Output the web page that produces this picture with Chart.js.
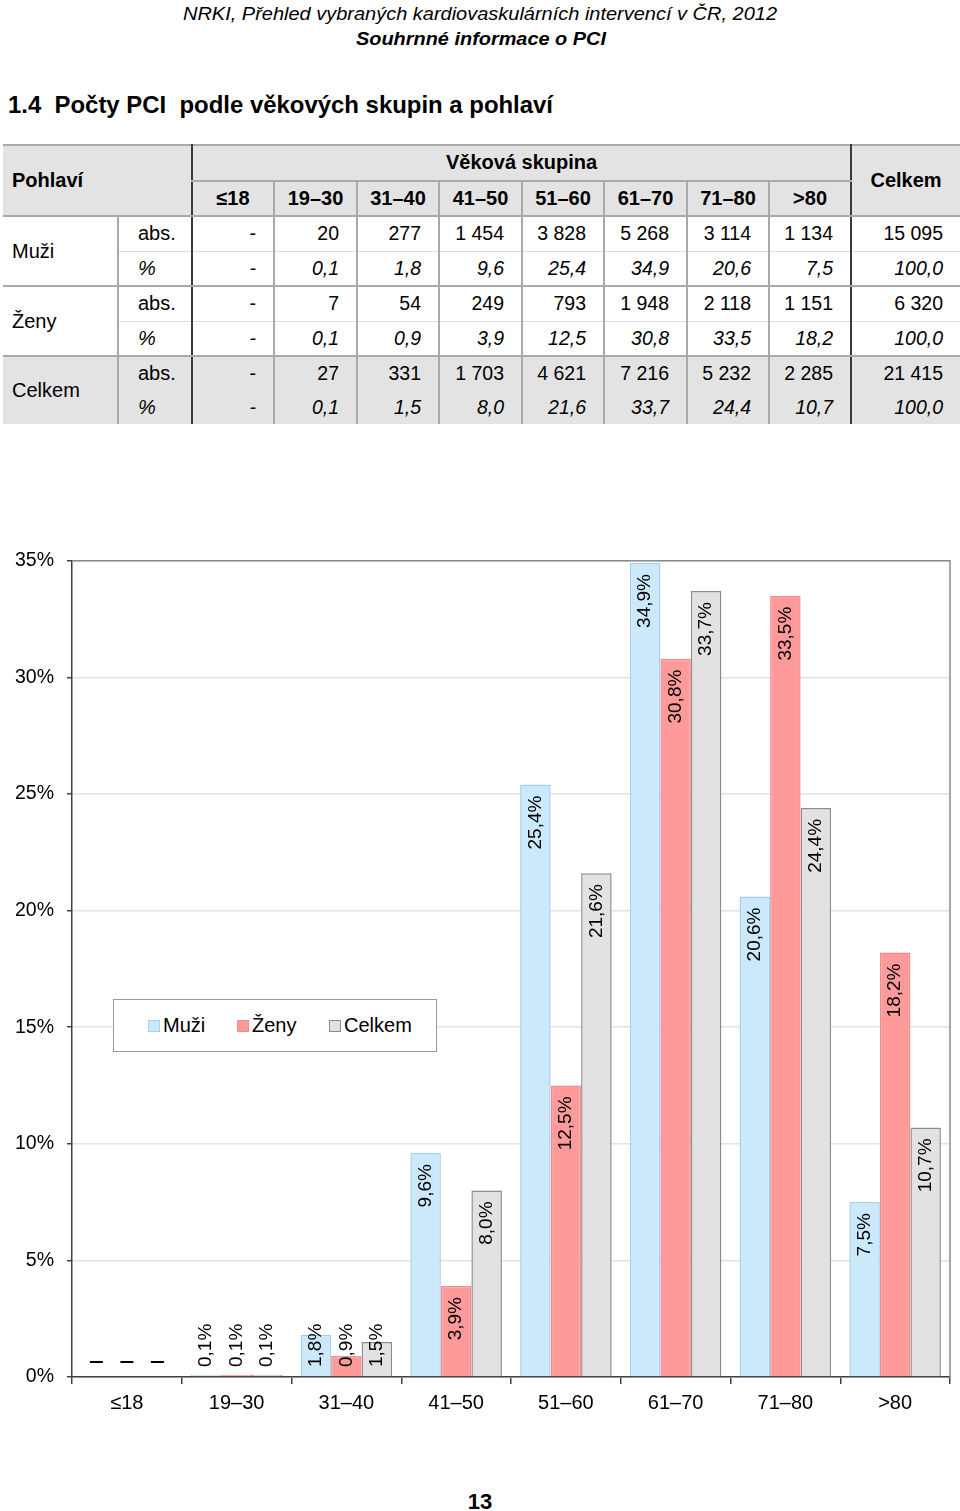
<!DOCTYPE html>
<html lang="cs"><head><meta charset="utf-8">
<script src="https://cdn.jsdelivr.net/npm/chart.js@4.4.0/dist/chart.umd.min.js"></script>
<style>
html,body{margin:0;padding:0}
body{width:960px;height:1511px;position:relative;background:#fff;font-family:"Liberation Sans",Arial,sans-serif;color:#000;overflow:hidden}
.fit{position:absolute;white-space:nowrap;font-family:"Liberation Sans Narrow","Arial Narrow","Liberation Sans",sans-serif;transform-origin:0 0}
#h1{top:4px;font-size:19px;line-height:19px;font-style:italic}
#h2{top:29px;font-size:19px;line-height:19px;font-style:italic;font-weight:bold}
#h3{top:93px;font-size:24px;line-height:24px;font-weight:bold}
#tbl{position:absolute;left:3px;top:144px;border-collapse:collapse;table-layout:fixed;width:957px;font-size:20px}
#tbl td{height:33.5px;padding:0;border:0;white-space:nowrap}
#tbl .hd{background:#e3e3e3;font-weight:bold}
#tbl .tot td{background:#e3e3e3}
#tbl .num{text-align:right;padding-right:17px;font-size:19.5px}
#tbl .it{font-style:italic}
#tbl .ctr{text-align:center}
#chartWrap{position:absolute;left:0;top:536px;width:960px;height:894px}
#legend{position:absolute;left:113px;top:999px;width:322px;height:51px;border:1px solid #9a9a9a;background:#fff;font-size:20px}
#legend .it{position:absolute;top:0;height:51px;line-height:51px;white-space:nowrap}
#legend .sw{position:absolute;width:10px;height:10px;top:20px;border:1px solid}
#pg{position:absolute;left:0;width:960px;text-align:center;top:1491px;font-size:22px;line-height:22px;font-weight:bold}
</style></head>
<body>
<div id="h1" class="fit">NRKI, Přehled vybraných kardiovaskulárních intervencí v ČR, 2012</div>
<div id="h2" class="fit">Souhrnné informace o PCI</div>
<div id="h3" class="fit">1.4&nbsp; Počty PCI &nbsp;podle věkových skupin a pohlaví</div>
<table id="tbl"></table>
<div id="chartWrap"><canvas id="c" width="960" height="894"></canvas></div>
<div id="legend"></div>
<div id="pg">13</div>
<script>
// ---- data ----
const categories = ['≤18', '19–30', '31–40', '41–50', '51–60', '61–70', '71–80', '>80'];
const seriesNames = ['Muži', 'Ženy', 'Celkem'];
const muziPct   = [null, 0.1, 1.8, 9.6, 25.4, 34.9, 20.6, 7.5];
const zenyPct   = [null, 0.1, 0.9, 3.9, 12.5, 30.8, 33.5, 18.2];
const celkemPct = [null, 0.1, 1.5, 8.0, 21.6, 33.7, 24.4, 10.7];
const muziAbs   = [null, 20, 277, 1454, 3828, 5268, 3114, 1134];
const zenyAbs   = [null, 7, 54, 249, 793, 1948, 2118, 1151];
const celkemAbs = [null, 27, 331, 1703, 4621, 7216, 5232, 2285];
const totalsAbs = [15095, 6320, 21415];
const yTickValues = [0, 5, 10, 15, 20, 25, 30, 35];

// ---- styles ----
const fills   = ['#cce8fb', '#ff9a9a', '#e2e2e2'];
const borders = ['#a6cfee', '#ef8c8c', '#8c8c8c'];

// ---- header fitting ----
function fitText(id, left, right){
  const el = document.getElementById(id);
  el.style.left = left + 'px';
  const w = el.getBoundingClientRect().width;
  el.style.transform = 'scaleX(' + ((right - left) / w) + ')';
}
fitText('h1', 183, 777);
fitText('h2', 356, 606);
fitText('h3', 8, 553);

// ---- table ----
const fmtAbs = v => v == null ? '-' : String(v).replace(/\B(?=(\d{3})+(?!\d))/g, ' ');
const fmtPct = v => v == null ? '-' : v.toFixed(1).replace('.', ',');
(function buildTable(){
  const G = '2px solid #a9a9a9', D = '2px solid #3a3a3a', L = '1px solid #dcdcdc';
  const colW = [115, 74, 82, 83, 82, 83, 82, 83, 82, 82, 109];
  let h = '<colgroup>' + colW.map(w => '<col style="width:' + w + 'px">').join('') + '</colgroup>';
  h += '<tr class="hd" style="border-top:' + G + '">' +
       '<td colspan="2" rowspan="2" style="padding-left:9px;border-bottom:' + G + '">Pohlaví</td>' +
       '<td colspan="8" class="ctr" style="border-left:' + D + ';border-right:' + D + ';border-bottom:' + G + '">Věková skupina</td>' +
       '<td rowspan="2" class="ctr" style="border-left:' + D + ';border-bottom:' + G + '">Celkem</td></tr>';
  h += '<tr class="hd">' + categories.map((c, i) =>
       '<td class="ctr" style="border-bottom:' + G + ';border-left:' + (i === 0 ? D : G) + (i === 7 ? ';border-right:' + D : '') + '">' + c + '</td>').join('') + '</tr>';
  const groups = [
    ['Muži', muziAbs, muziPct, totalsAbs[0], ''],
    ['Ženy', zenyAbs, zenyPct, totalsAbs[1], ''],
    ['Celkem', celkemAbs, celkemPct, totalsAbs[2], 'tot']
  ];
  groups.forEach((g, gi) => {
    const last = gi === 2;
    const bb = last ? '0' : G;
    h += '<tr class="' + g[4] + '"><td rowspan="2" style="padding-left:9px;border-right:' + G + ';border-bottom:' + bb + '">' + g[0] + '</td>' +
         '<td style="padding-left:19px;border-bottom:' + (last ? '0' : L) + '">abs.</td>' +
         g[1].map((v, i) => '<td class="num" style="border-left:' + (i === 0 ? D : G) + ';border-bottom:' + (last ? '0' : L) + '">' + fmtAbs(v) + '</td>').join('') +
         '<td class="num" style="border-left:' + D + ';border-bottom:' + (last ? '0' : L) + '">' + fmtAbs(g[3]) + '</td></tr>';
    h += '<tr class="' + g[4] + '"><td class="it" style="padding-left:19px;border-bottom:' + bb + '">%</td>' +
         g[2].map((v, i) => '<td class="num it" style="border-left:' + (i === 0 ? D : G) + ';border-bottom:' + bb + '">' + fmtPct(v) + '</td>').join('') +
         '<td class="num it" style="border-left:' + D + ';border-bottom:' + bb + '">' + fmtPct(100) + '</td></tr>';
  });
  document.getElementById('tbl').innerHTML = h;
})();

// ---- legend ----
(function buildLegend(){
  const sw = [34, 123, 215], tx = [49, 138, 230];
  document.getElementById('legend').innerHTML = seriesNames.map((n, i) =>
    '<span class="sw" style="left:' + sw[i] + 'px;background:' + fills[i] + ';border-color:' + borders[i] + '"></span>' +
    '<span class="it" style="left:' + tx[i] + 'px">' + n + '</span>').join('');
})();

// ---- chart ----
const plotFrame = {
  id: 'plotFrame',
  beforeDatasetsDraw(chart){
    const a = chart.chartArea, ctx = chart.ctx;
    ctx.save();
    ctx.strokeStyle = '#8a8a8a'; ctx.lineWidth = 1.5;
    ctx.beginPath();
    ctx.moveTo(a.left, a.top); ctx.lineTo(a.right, a.top); ctx.lineTo(a.right, a.bottom);
    ctx.stroke();
    ctx.restore();
  }
};
const barLabels = {
  id: 'barLabels',
  afterDatasetsDraw(chart){
    const ctx = chart.ctx, y0 = chart.scales.y.getPixelForValue(0);
    ctx.save();
    ctx.font = '19px "Liberation Sans", Arial, sans-serif';
    ctx.fillStyle = '#000'; ctx.strokeStyle = '#000';
    chart.data.datasets.forEach((ds, di) => {
      chart.getDatasetMeta(di).data.forEach((bar, i) => {
        const v = ds.data[i];
        if (v == null) {
          ctx.lineWidth = 2;
          ctx.beginPath(); ctx.moveTo(bar.x - 6.5, y0 - 15); ctx.lineTo(bar.x + 6.5, y0 - 15); ctx.stroke();
          return;
        }
        const txt = fmtPct(v) + '%';
        const w = ctx.measureText(txt).width;
        const top = Math.min(bar.y + 11, y0 - 10 - w);
        ctx.save();
        ctx.translate(bar.x, top);
        ctx.rotate(-Math.PI / 2);
        ctx.textAlign = 'right'; ctx.textBaseline = 'middle';
        ctx.fillText(txt, 0, 0);
        ctx.restore();
      });
    });
    ctx.restore();
  }
};

new Chart(document.getElementById('c'), {
  type: 'bar',
  data: {
    labels: categories,
    datasets: [muziPct, zenyPct, celkemPct].map((d, i) => ({
      label: seriesNames[i], data: d,
      backgroundColor: fills[i], borderColor: borders[i], borderWidth: 1.5
    }))
  },
  options: {
    responsive: false, animation: false, devicePixelRatio: 1,
    layout: { padding: { top: 18, right: 10, left: 0, bottom: 0 } },
    categoryPercentage: 0.834, barPercentage: 1,
    plugins: { legend: { display: false }, tooltip: { enabled: false } },
    scales: {
      x: {
        grid: { offset: true, drawOnChartArea: false, tickLength: 7, tickColor: '#404040', lineWidth: 1.5 },
        border: { color: '#404040', width: 1.5 },
        ticks: { color: '#000', font: { size: 20, family: '"Liberation Sans", Arial' }, padding: 7, maxRotation: 0 },
        afterFit(s){ s.height = 53; }
      },
      y: {
        min: 0, max: 35,
        afterBuildTicks(s){ s.ticks = yTickValues.map(v => ({ value: v })); },
        ticks: { color: '#000', font: { size: 19.5, family: '"Liberation Sans", Arial' }, padding: 13, callback: v => v + '%' },
        grid: { color: '#e2e2e2', lineWidth: 1.5, tickLength: 5, tickColor: '#404040' },
        border: { color: '#404040', width: 1.5 },
        afterFit(s){ s.width = 72; }
      }
    }
  },
  plugins: [plotFrame, barLabels]
});
</script>
</body></html>
